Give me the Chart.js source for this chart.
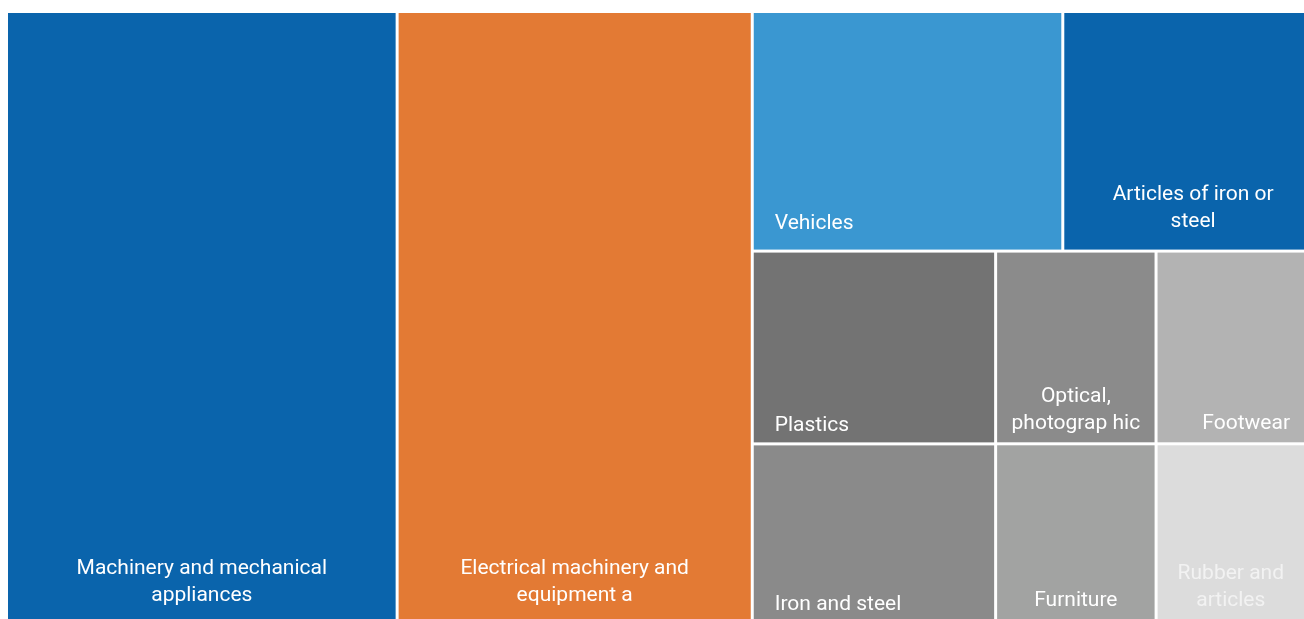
<!DOCTYPE html>
<html lang="en">
<head>
<meta charset="UTF-8" />
<title>Imports by product group</title>
<script src="https://cdn.jsdelivr.net/npm/chart.js"></script>
<style>
    body { margin: 0; background: #ffffff; }
    canvas { display: block; }
</style>
</head>
<body>
<canvas id="treemap" width="1304" height="619"></canvas>
<script>
// product groups, largest first
const categories = [
    "Machinery and mechanical appliances",
    "Electrical machinery and equipment a",
    "Vehicles",
    "Articles of iron or steel",
    "Plastics",
    "Iron and steel",
    "Optical, photograp hic",
    "Footwear",
    "Furniture",
    "Rubber and articles"
];
// wrapped label text as drawn in each tile
const labelLines = [
    ["Machinery and mechanical", "appliances"],
    ["Electrical machinery and", "equipment a"],
    ["Vehicles"],
    ["Articles of iron or", "steel"],
    ["Plastics"],
    ["Iron and steel"],
    ["Optical,", "photograp hic"],
    ["Footwear"],
    ["Furniture"],
    ["Rubber and", "articles"]
];
const values = [235.7, 215.1, 73.9, 57.4, 46.9, 42.6, 30.9, 28.5, 28.1, 25.9];

const colors = ["#0a64ac", "#e37a34", "#3a97d1", "#0a64ac", "#737373",
                "#8a8a8a", "#8b8b8b", "#b3b3b3", "#a2a3a2", "#dcdcdc"];
const textColors = ["#fff", "#fff", "#fff", "#fff", "#fff",
                    "#fff", "#fff", "#fff", "#fff", "#f2f2f2"];
// label placement inside each tile: alignment, sideways nudge, and
// distance of the last line above the tile bottom
const labelAlign = ["center", "center", "left", "center", "left",
                    "left", "center", "right", "center", "center"];
const labelNudge = [0, 0, 0, 9, 0, 0, 0, 0, 0, 0];
const labelBottom = [23, 23, 26, 28, 17, 14, 19, 19, 18, 18];

function worst(row, side) {
    const s = row.reduce((a, b) => a + b, 0);
    const mx = Math.max(...row), mn = Math.min(...row);
    return Math.max(side * side * mx / (s * s), (s * s) / (side * side * mn));
}

// squarified layout in a w x h box, returns rects in the same units
function squarify(vals, x, y, w, h) {
    const total = vals.reduce((a, b) => a + b, 0);
    const areas = vals.map(v => v * (w * h) / total);
    const rects = [];
    let i = 0;
    while (i < areas.length) {
        const side = Math.min(w, h);
        let row = [areas[i]];
        let best = worst(row, side);
        let j = i + 1;
        while (j < areas.length) {
            const next = row.concat(areas[j]);
            const wr = worst(next, side);
            if (wr > best) break;
            row = next; best = wr; j++;
        }
        const sum = row.reduce((a, b) => a + b, 0);
        if (w >= h) {
            const cw = sum / h;
            let cy = y;
            row.forEach(a => { const rh = a / cw; rects.push({ x: x, y: cy, w: cw, h: rh }); cy += rh; });
            x += cw; w -= cw;
        } else {
            const rh = sum / w;
            let cx = x;
            row.forEach(a => { const rw = a / rh; rects.push({ x: cx, y: y, w: rw, h: rh }); cx += rw; });
            y += rh; h -= rh;
        }
        i = j;
    }
    return rects;
}

const treemapPlugin = {
    id: "treemapTiles",
    afterDatasetsDraw(chart) {
        const { ctx, chartArea, scales } = chart;
        const aspect = (chartArea.right - chartArea.left) / (chartArea.bottom - chartArea.top);
        const rects = squarify(values, 0, 0, aspect, 1);
        const gap = 1.5;
        const eps = 1e-6;

        ctx.save();
        rects.forEach((r, i) => {
            const u0 = r.x / aspect, u1 = (r.x + r.w) / aspect;
            const v0 = r.y, v1 = r.y + r.h;
            let left = scales.x.getPixelForValue(u0);
            let right = scales.x.getPixelForValue(u1);
            let top = scales.y.getPixelForValue(v0);
            let bottom = scales.y.getPixelForValue(v1);
            if (u0 > eps) left += gap;
            if (u1 < 1 - eps) right -= gap;
            if (v0 > eps) top += gap;
            if (v1 < 1 - eps) bottom -= gap;

            ctx.fillStyle = colors[i];
            ctx.fillRect(left, top, right - left, bottom - top);

            ctx.fillStyle = textColors[i];
            ctx.font = "21px Roboto";
            ctx.textBaseline = "middle";
            ctx.textAlign = labelAlign[i];
            let tx = (left + right) / 2;
            if (labelAlign[i] === "left") tx = left + 21;
            if (labelAlign[i] === "right") tx = right - 14;
            tx += labelNudge[i];
            const lines = labelLines[i];
            lines.forEach((line, k) => {
                const ty = bottom - labelBottom[i] - (lines.length - 1 - k) * 27;
                ctx.fillText(line, tx, ty);
            });
        });
        ctx.restore();
    }
};

new Chart(document.getElementById("treemap"), {
    type: "scatter",
    data: { datasets: [] },
    options: {
        responsive: false,
        animation: false,
        layout: { padding: { left: 8, top: 13, right: 0, bottom: 0 } },
        plugins: { legend: { display: false }, tooltip: { enabled: false } },
        scales: {
            x: { type: "linear", min: 0, max: 1, display: false },
            y: { type: "linear", min: 0, max: 1, reverse: true, display: false }
        }
    },
    plugins: [treemapPlugin]
});
</script>
</body>
</html>
